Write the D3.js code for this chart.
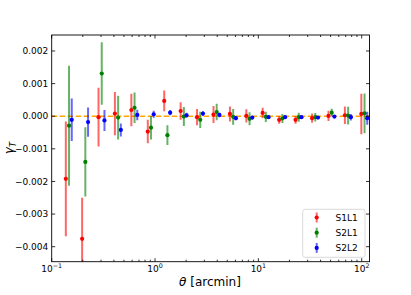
<!DOCTYPE html>
<html><head><meta charset="utf-8">
<script src="https://cdn.jsdelivr.net/npm/d3@7"></script>
<style>body{margin:0;background:#fff}svg{display:block;font-family:"DejaVu Sans",sans-serif}</style>
</head><body><svg id="c" width="411" height="295"></svg>
<script>
const theta = [0.137,0.197,0.284,0.409,0.590,0.851,1.227,1.77,2.55,3.68,5.31,7.65,11.0,15.9,22.9,33.1,47.7,68.8,99.2];
const s1l1 = [-0.00192,-0.00376,-0.00003,0.00008,0.00019,-0.00047,0.00047,0.00016,-0.00003,0.00005,0.00007,0.00001,0.0001,-0.00011,-0.00011,-0.00006,0.00001,0.00003,0.00007];
const s1l1Err = [0.00176,0.00126,0.0009,0.00066,0.0005,0.00036,0.00032,0.00027,0.00025,0.00026,0.00023,0.0002,0.00016,0.00012,0.00012,0.00014,0.00016,0.00027,0.00062];
const s2l1 = [-0.00029,-0.0014,0.00131,-0.00004,0.00026,-0.00035,-0.00058,-0.00001,-0.00011,0.00013,-0.00002,-0.00008,-0.00002,-0.00007,-0.00003,-0.00003,0.00011,0.00002,0.00009];
const s2l1Err = [0.00184,0.00106,0.00096,0.00067,0.00047,0.00036,0.0003,0.00029,0.00025,0.00025,0.00024,0.0002,0.00016,0.00014,0.00014,0.00013,0.00012,0.00027,0.00061];
const s2l2 = [-0.00011,-0.00018,-0.00013,-0.00042,0.00004,0.00006,0.00011,0.00003,0.00008,0.00004,-0.00006,-0.00004,-0.00003,-0.00003,-0.00003,-0.00004,-0.00001,-0.00003,-0.00006];
const s2l2Err = [0.00065,0.00045,0.00032,0.0002,0.00016,0.00011,0.00008,0.00008,0.00007,0.00007,0.00006,0.00005,0.00004,0.00004,0.00004,0.00004,0.00005,0.0001,0.0002];
const seriesNames = ["S1L1","S2L1","S2L2"];
const xTicks = [0.1,1,10,100];
const xTickExp = ["\u22121","0","1","2"];
const yTicks = [0.002,0.001,0,-0.001,-0.002,-0.003,-0.004];
const yTickLabels = ["0.002","0.001","0.000","\u22120.001","\u22120.002","\u22120.003","\u22120.004"];

const series = [
  {name:seriesNames[0], v:s1l1, e:s1l1Err, shift:1.0, color:"#ff0000"},
  {name:seriesNames[1], v:s2l1, e:s2l1Err, shift:1.074, color:"#008000"},
  {name:seriesNames[2], v:s2l2, e:s2l2Err, shift:1.141, color:"#0000ff"}
];

const L=51.7, R=369.5, T=35, B=261.7;
const svg = d3.select("#c");
const x = d3.scaleLog().domain([0.1,119]).range([L,R]);
const y = d3.scaleLinear().domain([-0.00446,0.00249]).range([B,T]);

svg.append("defs").append("clipPath").attr("id","clip")
  .append("rect").attr("x",L).attr("y",T).attr("width",R-L).attr("height",B-T);

const minor = [];
for (let d=-1; d<=2; d++) for (let k=1;k<10;k++){const v=k*Math.pow(10,d); if(v>=0.1&&v<=119&&k>1) minor.push(v);}

// zero line
svg.append("line").attr("x1",L).attr("x2",R).attr("y1",y(0)).attr("y2",y(0))
  .attr("stroke","#ffa500").attr("stroke-width",1.5).attr("stroke-dasharray","5.5,2.5");

const g = svg.append("g").attr("clip-path","url(#clip)");
series.forEach(s=>{
  const gs = g.append("g");
  gs.selectAll("line").data(theta).join("line")
    .attr("x1",(d)=>x(d*s.shift)).attr("x2",(d)=>x(d*s.shift))
    .attr("y1",(d,i)=>y(s.v[i]+s.e[i])).attr("y2",(d,i)=>y(s.v[i]-s.e[i]))
    .attr("stroke",s.color).attr("stroke-opacity",0.6).attr("stroke-width",2);
  gs.selectAll("circle").data(theta).join("circle")
    .attr("cx",(d)=>x(d*s.shift)).attr("cy",(d,i)=>y(s.v[i])).attr("r",2.1)
    .attr("fill",s.color);
});

// frame
svg.append("rect").attr("x",L).attr("y",T).attr("width",R-L).attr("height",B-T)
  .attr("fill","none").attr("stroke","#000").attr("stroke-width",0.9);

// axes ticks (inward, all sides)
const ax = svg.append("g").attr("stroke","#000").attr("stroke-width",0.8);
xTicks.forEach(v=>{
  ax.append("line").attr("x1",x(v)).attr("x2",x(v)).attr("y1",B).attr("y2",B-3.5);
  ax.append("line").attr("x1",x(v)).attr("x2",x(v)).attr("y1",T).attr("y2",T+3.5);
});
minor.forEach(v=>{
  ax.append("line").attr("x1",x(v)).attr("x2",x(v)).attr("y1",B).attr("y2",B-2);
  ax.append("line").attr("x1",x(v)).attr("x2",x(v)).attr("y1",T).attr("y2",T+2);
});
yTicks.forEach(v=>{
  ax.append("line").attr("x1",L).attr("x2",L+3.5).attr("y1",y(v)).attr("y2",y(v));
  ax.append("line").attr("x1",R).attr("x2",R-3.5).attr("y1",y(v)).attr("y2",y(v));
});

// tick labels
xTicks.forEach((v,i)=>{
  const t = svg.append("text").attr("x",x(v)).attr("y",271.5).attr("text-anchor","middle")
    .attr("font-size",9).attr("fill","#000");
  t.append("tspan").text("10");
  t.append("tspan").attr("dy",-3.5).attr("font-size",6.3).text(xTickExp[i]);
});
yTicks.forEach((v,i)=>{
  svg.append("text").attr("x",L-3.5).attr("y",y(v)+3.2).attr("text-anchor","end")
    .attr("font-size",9).attr("fill","#000").text(yTickLabels[i]);
});

// axis labels
const xl = svg.append("text").attr("x",210).attr("y",285.5).attr("text-anchor","middle")
  .attr("font-size",12).attr("fill","#000");
xl.append("tspan").attr("font-style","italic").text("\u03b8");
xl.append("tspan").text(" [arcmin]");
const yl = svg.append("text").attr("transform","translate(13,148) rotate(-90)")
  .attr("text-anchor","middle").attr("font-size",12).attr("fill","#000");
yl.append("tspan").attr("font-style","italic").text("\u03b3");
yl.append("tspan").attr("font-style","italic").attr("font-size",8.5).attr("dy",2.5).text("T");

// legend
const lg = svg.append("g");
lg.append("rect").attr("x",302.7).attr("y",209.3).attr("width",62.3).attr("height",48)
  .attr("rx",2.5).attr("fill","#fff").attr("fill-opacity",0.8).attr("stroke","#d0d0d0").attr("stroke-width",0.8);
series.forEach((s,i)=>{
  const cy = 217.5 + i*15.2;
  lg.append("line").attr("x1",316.7).attr("x2",316.7).attr("y1",cy-5).attr("y2",cy+5)
    .attr("stroke",s.color).attr("stroke-opacity",0.6).attr("stroke-width",2);
  lg.append("circle").attr("cx",316.7).attr("cy",cy).attr("r",2.1).attr("fill",s.color);
  lg.append("text").attr("x",335.5).attr("y",cy+3.3).attr("font-size",9).attr("fill","#000").text(s.name);
});
</script></body></html>
